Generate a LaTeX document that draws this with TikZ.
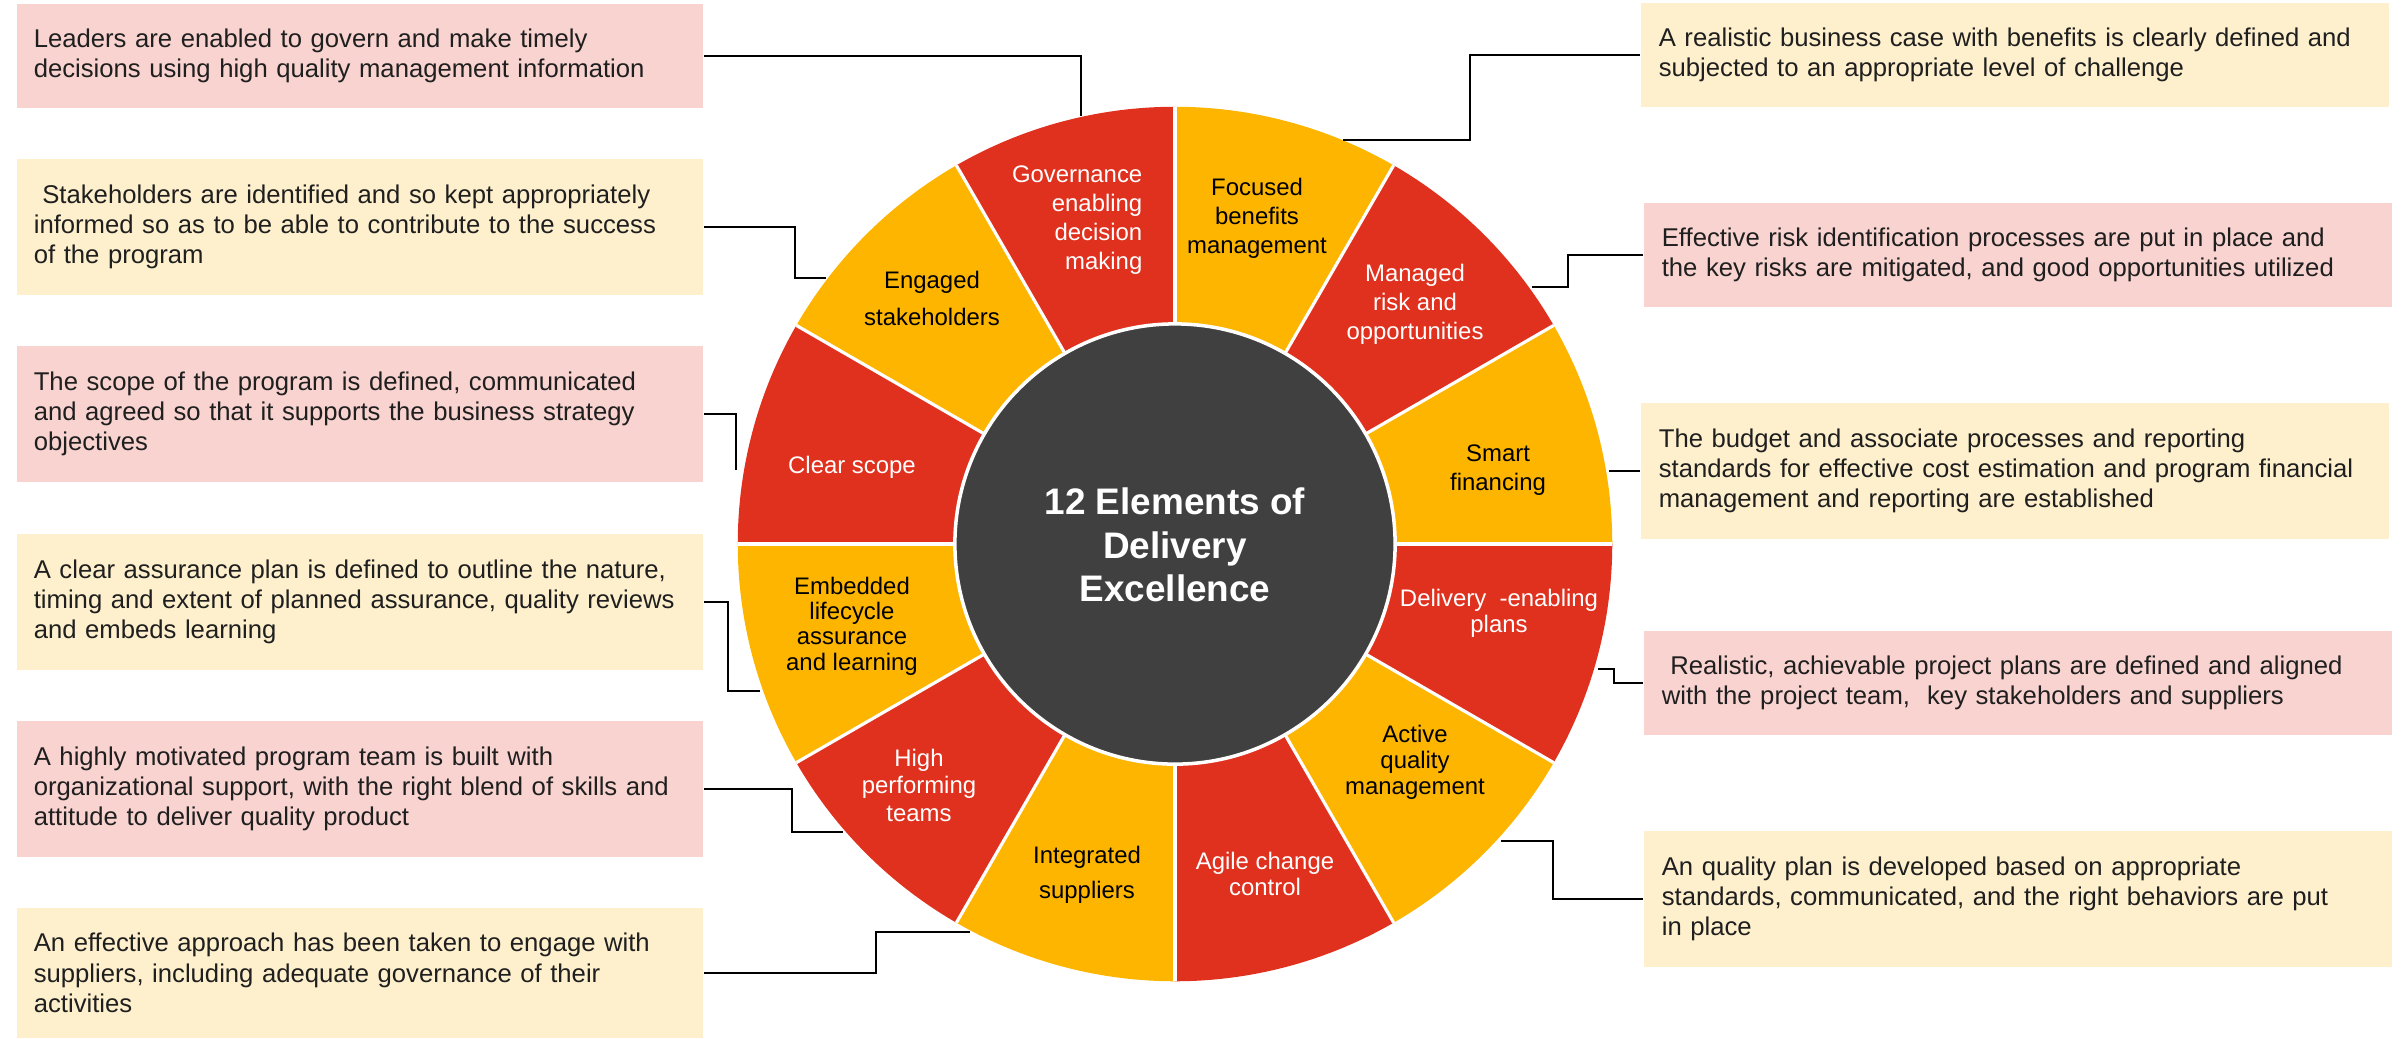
\documentclass[tikz,border=0pt]{standalone}
\usepackage{fontspec}
\setmainfont{Liberation Sans}
\usetikzlibrary{calc}

\definecolor{segred}{HTML}{E0311F}
\definecolor{segyel}{HTML}{FDB500}
\definecolor{hubgray}{HTML}{404040}
\definecolor{boxpink}{HTML}{F8D3D0}
\definecolor{boxyel}{HTML}{FEF0CD}

\begin{document}
\begin{tikzpicture}[x=0.01cm, y=-0.01cm,
    desc/.style={inner ysep=0pt, align=left, text=black!88,
      font=\fontsize{7.3}{8.6}\selectfont},
    lbox/.style={desc, inner xsep=0.17cm, text width=6.52cm},
    rbox/.style={desc, inner xsep=0.18cm, text width=7.12cm},
    seg/.style={align=center, inner sep=0pt, font=\fontsize{6.8}{8.3}\selectfont},
    onred/.style={seg, text=white},
    link/.style={line width=0.65pt}]
  \useasboundingbox (0,0) rectangle (2403,1038);

  % the wheel
  \begin{scope}[shift={(1175,544)}, x=1cm, y=1cm]
    \foreach \a/\c in {0/segyel, 30/segred, 60/segyel, 90/segred, 120/segyel, 150/segred,
                       180/segyel, 210/segred, 240/segyel, 270/segred, 300/segyel, 330/segred}
      \fill[\c] (0,0) -- (\a:4.37) arc[start angle=\a, end angle=\a+30, radius=4.37cm] -- cycle;
    \foreach \a in {0,30,...,330}
      \draw[white, line width=0.9pt] (0,0) -- (\a:4.37);
    \draw[white, line width=1pt, fill=hubgray] (0,0) circle[radius=2.2cm];
  \end{scope}
  \node[align=center, text=white, font=\fontsize{10.5}{12.3}\selectfont\bfseries] (hub) at (1175,545)
    {12 Elements of\\Delivery\\Excellence};

  % segment labels
  \node[onred, anchor=east, align=right] (gov) at (1143,220) {Governance\\enabling\\decision\\making};
  \node[seg] (foc) at (1257,218) {Focused\\benefits\\management};
  \node[onred] (risk) at (1415,304) {Managed\\risk and\\opportunities};
  \node[seg] (smart) at (1498,470) {Smart\\financing};
  \node[onred, font=\fontsize{6.8}{7.3}\selectfont] (deliv) at (1499,613) {Delivery \ -enabling\\plans};
  \node[seg, font=\fontsize{6.8}{7.4}\selectfont] (active) at (1415,762) {Active\\quality\\management};
  \node[onred, font=\fontsize{6.8}{7.6}\selectfont] (agile) at (1265,874) {Agile change\\control};
  \node[seg, font=\fontsize{6.8}{10}\selectfont] (integ) at (1087,875) {Integrated\\suppliers};
  \node[onred, font=\fontsize{6.8}{7.8}\selectfont] (high) at (919,785) {High\\performing\\teams};
  \node[seg, font=\fontsize{6.8}{7.2}\selectfont] (emb) at (852,626) {Embedded\\lifecycle\\assurance\\and learning};
  \node[onred] (clear) at (852,467) {Clear scope};
  \node[seg, font=\fontsize{6.8}{10.5}\selectfont] (eng) at (932,298) {Engaged\\stakeholders};

  % left boxes
  \node[lbox, fill=boxpink, minimum height=1.04cm] (lead) at (360,56)
    {Leaders are enabled to govern and make timely\\decisions using high quality management information};
  \node[lbox, fill=boxyel, minimum height=1.36cm] (stake) at (360,227)
    {\ Stakeholders are identified and so kept appropriately\\informed so as to be able to contribute to the success\\of the program};
  \node[lbox, fill=boxpink, minimum height=1.36cm] (scope) at (360,414)
    {The scope of the program is defined, communicated\\and agreed so that it supports the business strategy\\objectives};
  \node[lbox, fill=boxyel, minimum height=1.36cm] (assur) at (360,602)
    {A clear assurance plan is defined to outline the nature,\\timing and extent of planned assurance, quality reviews\\and embeds learning};
  \node[lbox, fill=boxpink, minimum height=1.36cm] (team) at (360,789)
    {A highly motivated program team is built with\\organizational support, with the right blend of skills and\\attitude to deliver quality product};
  \node[lbox, fill=boxyel, minimum height=1.30cm] (supp) at (360,973)
    {An effective approach has been taken to engage with\\suppliers, including adequate governance of their\\activities};

  % right boxes
  \node[rbox, fill=boxyel, minimum height=1.04cm] (case) at (2015,55)
    {A realistic business case with benefits is clearly defined and\\subjected to an appropriate level of challenge};
  \node[rbox, fill=boxpink, minimum height=1.04cm] (riskbox) at (2018,255)
    {Effective risk identification processes are put in place and\\the key risks are mitigated, and good opportunities utilized};
  \node[rbox, fill=boxyel, minimum height=1.36cm] (budget) at (2015,471)
    {The budget and associate processes and reporting\\standards for effective cost estimation and program financial\\management and reporting are established};
  \node[rbox, fill=boxpink, minimum height=1.04cm] (plans) at (2018,683)
    {\ Realistic, achievable project plans are defined and aligned\\with the project team, \ key stakeholders and suppliers};
  \node[rbox, fill=boxyel, minimum height=1.36cm] (qplan) at (2018,899)
    {An quality plan is developed based on appropriate\\standards, communicated, and the right behaviors are put\\in place};

  % ends on the rim
  \coordinate (e1) at (1081,116);
  \coordinate (e2) at (826,278);
  \coordinate (e3) at (736,470);
  \coordinate (e4) at (760,691);
  \coordinate (e5) at (843,832);
  \coordinate (e6) at (970,932);
  \coordinate (e7) at (1343,140);
  \coordinate (e8) at (1532,287);
  \coordinate (e9) at (1609,471);
  \coordinate (e10) at (1598,669);
  \coordinate (e11) at (1501,841);

  \draw[link] (lead.east) -| (e1);
  \draw[link] (stake.east) -- ++(91,0) |- (e2);
  \draw[link] (scope.east) -| (e3);
  \draw[link] (assur.east) -- ++(24,0) |- (e4);
  \draw[link] (team.east) -- ++(88,0) |- (e5);
  \draw[link] (supp.east) -- ++(172,0) |- (e6);
  \draw[link] (case.west) -- ++(-170,0) |- (e7);
  \draw[link] (riskbox.west) -- ++(-75,0) |- (e8);
  \draw[link] (budget.west) -- (e9);
  \draw[link] (plans.west) -- ++(-29,0) |- (e10);
  \draw[link] (qplan.west) -- ++(-90,0) |- (e11);
\end{tikzpicture}
\end{document}
